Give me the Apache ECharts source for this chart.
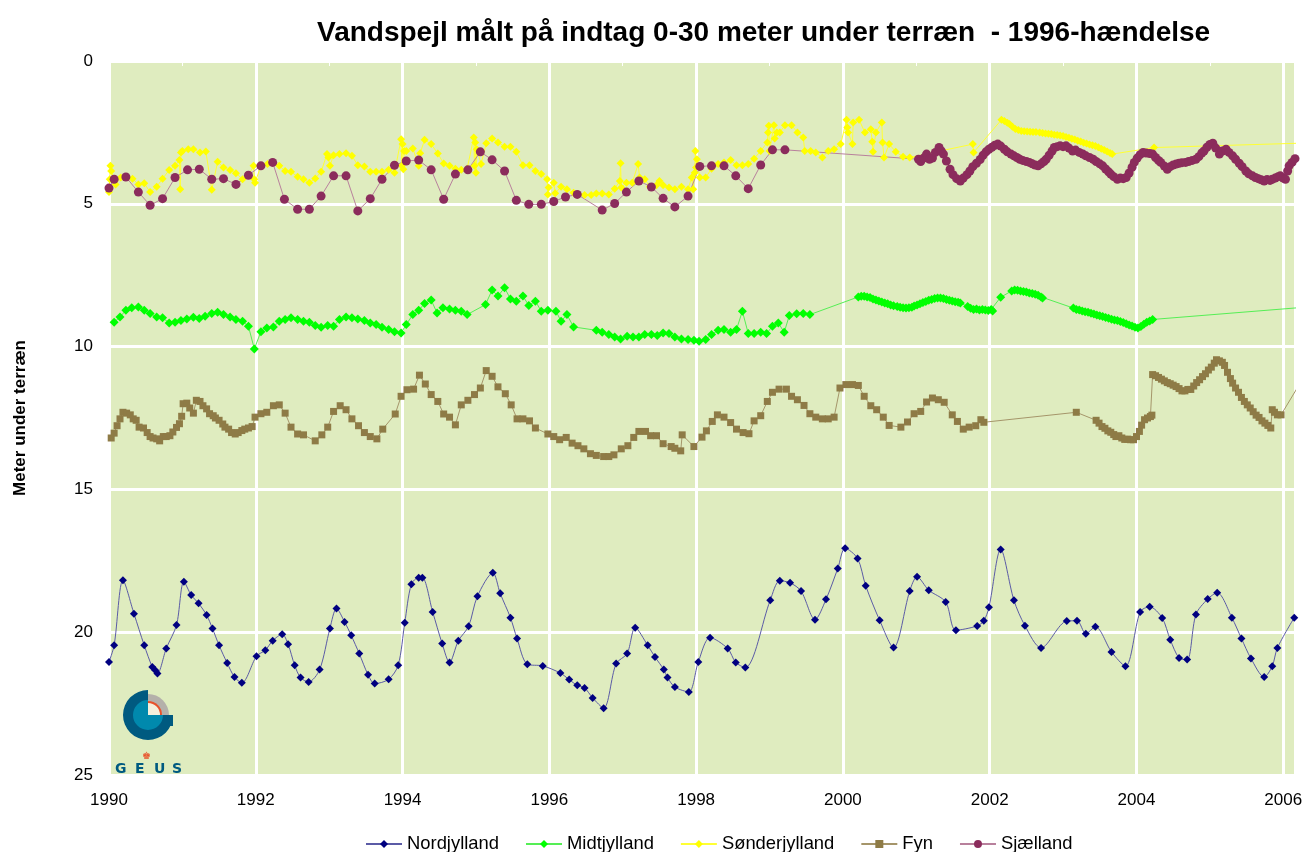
<!DOCTYPE html>
<html>
<head>
<meta charset="utf-8">
<title>Vandspejl 1990-2006</title>
<script src="https://cdn.jsdelivr.net/npm/echarts@6/dist/echarts.min.js"></script>
<style>
  html, body { margin: 0; padding: 0; background: #ffffff; }
  #chart { width: 1308px; height: 852px; }
</style>
</head>
<body>
<div id="chart"></div>
<script>
// Groundwater level, metres below surface, screens 0-30 m, by region.
// Each entry is [decimal year, metres below terrain].

const yearTicks = [1990, 1992, 1994, 1996, 1998, 2000, 2002, 2004, 2006];
const depthTicks = [0, 5, 10, 15, 20, 25];
const regionNames = ['Nordjylland', 'Midtjylland', 'Sønderjylland', 'Fyn', 'Sjælland'];

const nordjylland = [
  [1990.00,21.04],[1990.07,20.46],[1990.19,18.18],[1990.34,19.35],[1990.48,20.46],[1990.59,21.22],[1990.63,21.33],[1990.66,21.45],
  [1990.78,20.57],[1990.92,19.75],[1991.02,18.23],[1991.12,18.70],[1991.22,18.99],[1991.33,19.40],[1991.41,19.87],[1991.50,20.46],
  [1991.61,21.08],[1991.71,21.57],[1991.81,21.77],[1992.01,20.84],[1992.13,20.63],[1992.23,20.30],[1992.36,20.07],[1992.44,20.42],
  [1992.53,21.16],[1992.61,21.59],[1992.72,21.74],[1992.87,21.31],[1993.01,19.87],[1993.10,19.17],[1993.21,19.64],[1993.30,20.11],
  [1993.41,20.75],[1993.53,21.49],[1993.62,21.80],[1993.81,21.65],[1993.94,21.16],[1994.03,19.67],[1994.12,18.32],[1994.22,18.09],
  [1994.27,18.09],[1994.41,19.29],[1994.54,20.40],[1994.64,21.06],[1994.76,20.30],[1994.90,19.79],[1995.02,18.74],[1995.23,17.92],
  [1995.33,18.64],[1995.47,19.49],[1995.56,20.22],[1995.70,21.12],[1995.91,21.18],[1996.15,21.43],[1996.27,21.66],[1996.38,21.86],
  [1996.48,21.95],[1996.59,22.30],[1996.74,22.66],[1996.91,21.10],[1997.06,20.75],[1997.17,19.84],[1997.34,20.46],[1997.44,20.87],
  [1997.56,21.31],[1997.61,21.59],[1997.71,21.92],[1997.90,22.09],[1998.03,21.04],[1998.19,20.19],[1998.43,20.57],[1998.54,21.06],
  [1998.67,21.24],[1999.01,18.88],[1999.14,18.20],[1999.28,18.27],[1999.43,18.56],[1999.62,19.56],[1999.77,18.85],[1999.93,17.77],
  [2000.03,17.06],[2000.20,17.42],[2000.31,18.37],[2000.50,19.58],[2000.69,20.54],[2000.91,18.56],[2001.01,18.06],[2001.17,18.53],
  [2001.40,18.94],[2001.54,19.93],[2001.83,19.78],[2001.92,19.60],[2001.99,19.13],[2002.15,17.10],[2002.33,18.88],[2002.48,19.77],
  [2002.70,20.55],[2003.05,19.61],[2003.19,19.60],[2003.31,20.05],[2003.44,19.81],[2003.66,20.69],[2003.85,21.19],[2004.05,19.29],
  [2004.18,19.11],[2004.35,19.50],[2004.46,20.26],[2004.58,20.90],[2004.69,20.96],[2004.81,19.38],[2004.97,18.84],[2005.10,18.62],
  [2005.30,19.49],[2005.43,20.22],[2005.56,20.92],[2005.74,21.57],[2005.85,21.19],[2005.92,20.55],[2006.15,19.49]
];

const midtjylland = [
  [1990.07,9.15],[1990.15,8.96],[1990.23,8.73],[1990.31,8.64],[1990.40,8.61],[1990.48,8.73],[1990.56,8.84],[1990.65,8.96],
  [1990.73,8.99],[1990.82,9.17],[1990.90,9.15],[1990.98,9.09],[1991.06,9.03],[1991.15,8.97],[1991.23,9.02],[1991.31,8.94],
  [1991.40,8.84],[1991.48,8.80],[1991.56,8.88],[1991.65,8.96],[1991.73,9.05],[1991.82,9.11],[1991.90,9.29],[1991.98,10.08],
  [1992.07,9.48],[1992.15,9.35],[1992.24,9.31],[1992.32,9.11],[1992.40,9.05],[1992.48,8.99],[1992.57,9.05],[1992.65,9.11],
  [1992.73,9.15],[1992.81,9.26],[1992.89,9.32],[1992.98,9.26],[1993.06,9.29],[1993.14,9.05],[1993.23,8.96],[1993.31,8.99],
  [1993.39,9.03],[1993.48,9.09],[1993.56,9.17],[1993.64,9.23],[1993.72,9.32],[1993.81,9.40],[1993.89,9.48],[1993.98,9.52],
  [1994.05,9.23],[1994.14,8.88],[1994.22,8.73],[1994.30,8.49],[1994.39,8.37],[1994.47,8.82],[1994.55,8.64],[1994.64,8.68],
  [1994.72,8.73],[1994.80,8.76],[1994.88,8.88],[1995.13,8.53],[1995.22,8.02],[1995.30,8.23],[1995.39,7.94],[1995.47,8.33],
  [1995.55,8.41],[1995.64,8.23],[1995.72,8.56],[1995.81,8.41],[1995.89,8.76],[1995.98,8.73],[1996.09,8.76],[1996.16,9.11],
  [1996.24,8.88],[1996.33,9.31],[1996.64,9.43],[1996.72,9.50],[1996.81,9.58],[1996.89,9.66],[1996.97,9.73],[1997.06,9.64],
  [1997.14,9.66],[1997.22,9.66],[1997.30,9.58],[1997.39,9.58],[1997.47,9.61],[1997.55,9.52],[1997.63,9.54],[1997.71,9.66],
  [1997.80,9.73],[1997.89,9.75],[1997.97,9.78],[1998.04,9.81],[1998.13,9.75],[1998.21,9.58],[1998.30,9.43],[1998.38,9.40],
  [1998.47,9.50],[1998.55,9.40],[1998.63,8.76],[1998.71,9.54],[1998.79,9.54],[1998.88,9.50],[1998.96,9.54],[1999.04,9.29],
  [1999.12,9.17],[1999.20,9.50],[1999.27,8.91],[1999.37,8.85],[1999.46,8.84],[1999.55,8.88],
  // logger period 2000-2001
  [2000.21,8.26],[2000.25,8.24],[2000.29,8.24],[2000.33,8.26],[2000.37,8.28],[2000.41,8.33],[2000.45,8.37],[2000.49,8.40],
  [2000.53,8.44],[2000.57,8.47],[2000.61,8.50],[2000.65,8.54],[2000.69,8.57],[2000.74,8.60],[2000.78,8.62],[2000.82,8.64],
  [2000.86,8.65],[2000.90,8.64],[2000.94,8.62],[2000.97,8.58],[2001.01,8.54],[2001.05,8.50],[2001.09,8.46],[2001.13,8.42],
  [2001.17,8.38],[2001.21,8.35],[2001.25,8.32],[2001.29,8.30],[2001.33,8.30],[2001.37,8.32],[2001.41,8.35],[2001.45,8.38],
  [2001.49,8.40],[2001.53,8.43],[2001.57,8.45],[2001.60,8.47],
  [2001.70,8.60],[2001.74,8.66],[2001.78,8.70],[2001.82,8.68],[2001.86,8.72],[2001.90,8.70],[2001.94,8.72],[2001.98,8.74],
  [2002.02,8.70],[2002.04,8.75],
  [2002.15,8.27],
  [2002.30,8.05],[2002.34,8.02],[2002.38,8.03],[2002.42,8.05],[2002.46,8.07],[2002.50,8.09],[2002.54,8.12],[2002.58,8.14],
  [2002.62,8.17],[2002.66,8.20],[2002.70,8.26],[2002.72,8.30],
  [2003.14,8.65],[2003.18,8.70],[2003.22,8.72],[2003.26,8.75],[2003.30,8.78],[2003.34,8.80],[2003.38,8.83],[2003.42,8.86],
  [2003.46,8.89],[2003.50,8.92],[2003.54,8.95],[2003.58,8.98],[2003.62,9.01],[2003.66,9.04],[2003.70,9.07],[2003.74,9.09],
  [2003.78,9.12],[2003.82,9.16],[2003.86,9.20],[2003.90,9.24],[2003.94,9.28],[2003.98,9.32],[2004.02,9.35],[2004.06,9.30],
  [2004.10,9.22],[2004.14,9.15],[2004.18,9.10],[2004.22,9.05],
  [2006.20,8.64]
];

const soenderjylland = [
  [1990.00,4.59],[1990.01,4.14],[1990.02,3.67],[1990.03,3.85],[1990.09,4.32],[1990.16,4.08],[1990.24,4.05],[1990.32,4.12],
  [1990.40,4.32],[1990.48,4.28],[1990.56,4.59],[1990.65,4.40],[1990.73,4.12],[1990.82,3.82],[1990.90,3.67],[1990.96,3.47],
  [1990.97,4.49],[1990.98,3.20],[1991.00,3.15],[1991.08,3.09],[1991.15,3.09],[1991.24,3.20],[1991.32,3.17],[1991.40,4.51],
  [1991.48,3.53],[1991.56,3.73],[1991.65,3.82],[1991.73,3.93],[1991.82,4.14],[1991.90,4.00],[1991.97,3.67],[1991.98,4.14],
  [1991.99,4.26],[1992.07,3.67],[1992.16,3.61],[1992.24,3.55],[1992.32,3.67],[1992.40,3.85],[1992.48,3.88],[1992.57,4.05],
  [1992.65,4.14],[1992.73,4.26],[1992.81,4.11],[1992.89,3.88],[1992.97,3.26],[1992.99,3.38],[1993.01,3.67],[1993.06,3.30],
  [1993.14,3.26],[1993.23,3.23],[1993.31,3.32],[1993.39,3.65],[1993.48,3.69],[1993.56,3.88],[1993.64,3.88],[1993.72,3.88],
  [1993.81,3.81],[1993.89,3.91],[1993.98,2.74],[1993.99,3.67],[1994.00,2.91],[1994.01,3.79],[1994.02,3.15],[1994.05,3.15],
  [1994.14,3.06],[1994.22,3.67],[1994.24,3.23],[1994.30,2.76],[1994.39,2.91],[1994.48,3.24],[1994.56,3.59],[1994.64,3.67],
  [1994.72,3.77],[1994.80,3.81],[1994.88,3.77],[1994.97,2.68],[1994.98,3.67],[1994.99,2.85],[1995.00,3.91],[1995.01,3.09],
  [1995.07,3.61],[1995.14,2.88],[1995.22,2.71],[1995.30,2.85],[1995.39,3.00],[1995.47,3.00],[1995.55,3.18],[1995.64,3.65],
  [1995.73,3.65],[1995.81,3.85],[1995.89,3.96],[1995.97,4.14],[1995.98,4.67],[1995.99,4.43],[1996.06,4.26],[1996.08,4.63],
  [1996.16,4.40],[1996.24,4.49],[1996.33,4.61],[1996.40,4.67],[1996.48,4.69],[1996.57,4.69],[1996.64,4.64],[1996.72,4.64],
  [1996.81,4.67],[1996.89,4.47],[1996.96,4.20],[1996.97,3.58],[1996.98,4.43],[1997.05,4.26],[1997.13,4.26],[1997.21,3.61],
  [1997.23,4.08],[1997.30,4.14],[1997.37,4.40],[1997.46,4.35],[1997.50,4.20],[1997.55,4.35],[1997.63,4.43],[1997.71,4.49],
  [1997.80,4.40],[1997.89,4.49],[1997.94,4.08],[1997.96,4.49],[1997.98,3.91],[1997.99,3.15],[1998.00,3.73],[1998.01,3.44],
  [1998.05,4.08],[1998.13,4.08],[1998.21,3.77],[1998.30,3.61],[1998.38,3.55],[1998.47,3.47],[1998.55,3.65],[1998.63,3.65],
  [1998.71,3.61],[1998.79,3.42],[1998.88,3.15],[1998.97,2.85],[1998.98,2.50],[1998.99,2.27],[1999.00,3.15],[1999.06,2.25],
  [1999.07,2.71],[1999.10,2.50],[1999.14,2.50],[1999.21,2.25],[1999.30,2.25],[1999.38,2.50],[1999.46,2.68],[1999.48,3.15],
  [1999.56,3.15],[1999.63,3.20],[1999.72,3.38],[1999.80,3.15],[1999.88,3.09],[1999.97,2.91],[2000.05,2.06],[2000.06,2.33],
  [2000.07,2.50],[2000.13,2.91],[2000.14,2.15],[2000.22,2.06],[2000.30,2.50],[2000.38,2.39],[2000.40,2.83],[2000.41,3.18],
  [2000.45,2.50],[2000.53,2.15],[2000.54,2.85],[2000.56,3.38],[2000.63,2.91],[2000.72,3.18],[2000.82,3.35],[2000.91,3.38],
  [2001.77,2.91],[2001.78,3.20],
  // logger period 2002-2003
  [2002.16,2.06],[2002.20,2.10],[2002.24,2.16],[2002.27,2.21],[2002.31,2.30],[2002.35,2.38],[2002.39,2.42],[2002.43,2.45],
  [2002.47,2.46],[2002.51,2.47],[2002.55,2.48],[2002.59,2.49],[2002.63,2.49],[2002.68,2.50],[2002.72,2.52],[2002.76,2.54],
  [2002.80,2.55],[2002.84,2.56],[2002.88,2.58],[2002.92,2.59],[2002.96,2.61],[2003.00,2.63],[2003.04,2.66],[2003.08,2.69],
  [2003.12,2.72],[2003.16,2.75],[2003.20,2.79],[2003.24,2.82],[2003.28,2.86],[2003.32,2.89],[2003.36,2.92],[2003.40,2.95],
  [2003.44,2.98],[2003.48,3.02],[2003.52,3.07],[2003.56,3.12],[2003.60,3.17],[2003.64,3.22],[2003.67,3.26],
  [2004.24,3.03],[2006.20,2.88]
];

const fyn = [
  [1990.03,13.20],[1990.07,13.03],[1990.11,12.77],[1990.15,12.53],[1990.19,12.30],[1990.24,12.33],[1990.29,12.39],[1990.33,12.53],
  [1990.37,12.58],[1990.41,12.82],[1990.47,12.85],[1990.52,13.01],[1990.56,13.15],[1990.60,13.20],[1990.65,13.23],[1990.69,13.30],
  [1990.74,13.15],[1990.78,13.15],[1990.83,13.12],[1990.87,12.99],[1990.92,12.83],[1990.96,12.70],[1990.99,12.44],[1991.01,12.00],
  [1991.06,11.98],[1991.10,12.15],[1991.15,12.33],[1991.19,11.88],[1991.24,11.92],[1991.28,12.07],[1991.33,12.18],[1991.37,12.35],
  [1991.42,12.42],[1991.45,12.50],[1991.50,12.58],[1991.55,12.71],[1991.58,12.82],[1991.63,12.89],[1991.67,13.01],[1991.72,13.06],
  [1991.76,13.01],[1991.81,12.94],[1991.85,12.89],[1991.90,12.85],[1991.95,12.80],[1991.99,12.47],[1992.07,12.35],[1992.15,12.30],
  [1992.24,12.07],[1992.32,12.04],[1992.40,12.33],[1992.48,12.82],[1992.57,13.06],[1992.65,13.09],[1992.81,13.30],[1992.90,13.09],
  [1992.98,12.82],[1993.06,12.27],[1993.15,12.07],[1993.23,12.21],[1993.31,12.53],[1993.40,12.77],[1993.48,13.01],[1993.56,13.15],
  [1993.65,13.23],[1993.73,12.89],[1993.90,12.36],[1993.98,11.74],[1994.06,11.51],[1994.15,11.49],[1994.23,11.00],[1994.31,11.31],
  [1994.39,11.68],[1994.48,11.92],[1994.56,12.36],[1994.64,12.47],[1994.72,12.74],[1994.80,12.04],[1994.89,11.88],[1994.98,11.68],
  [1995.06,11.45],[1995.14,10.84],[1995.22,11.04],[1995.30,11.41],[1995.40,11.65],[1995.48,12.04],[1995.56,12.53],[1995.64,12.53],
  [1995.73,12.60],[1995.81,12.85],[1995.98,13.06],[1996.06,13.15],[1996.14,13.26],[1996.23,13.18],[1996.31,13.38],[1996.39,13.47],
  [1996.47,13.58],[1996.56,13.75],[1996.64,13.81],[1996.74,13.85],[1996.81,13.85],[1996.88,13.79],[1996.98,13.58],[1997.07,13.47],
  [1997.15,13.18],[1997.22,12.97],[1997.31,12.97],[1997.38,13.12],[1997.46,13.12],[1997.55,13.40],[1997.66,13.50],[1997.71,13.56],
  [1997.79,13.65],[1997.81,13.09],[1997.97,13.50],[1998.08,13.17],[1998.14,12.95],[1998.22,12.62],[1998.29,12.39],[1998.38,12.47],
  [1998.47,12.66],[1998.55,12.89],[1998.64,13.01],[1998.72,13.05],[1998.79,12.60],[1998.88,12.42],[1998.97,11.92],[1999.04,11.60],
  [1999.13,11.49],[1999.23,11.49],[1999.30,11.74],[1999.38,11.86],[1999.47,12.06],[1999.55,12.35],[1999.63,12.47],[1999.72,12.53],
  [1999.80,12.53],[1999.88,12.47],[1999.96,11.45],[2000.04,11.33],[2000.13,11.33],[2000.21,11.36],[2000.29,11.74],[2000.38,12.07],
  [2000.46,12.21],[2000.55,12.47],[2000.63,12.76],[2000.79,12.82],[2000.88,12.64],[2000.97,12.35],[2001.06,12.27],[2001.14,11.94],
  [2001.22,11.80],[2001.30,11.86],[2001.38,11.95],[2001.49,12.39],[2001.56,12.62],[2001.64,12.89],[2001.72,12.82],[2001.81,12.77],
  [2001.88,12.56],[2001.92,12.65],[2003.18,12.30],
  // logger period 2003-2005
  [2003.45,12.58],[2003.49,12.68],[2003.53,12.80],[2003.57,12.86],[2003.61,12.95],[2003.65,13.00],[2003.69,13.08],[2003.72,13.15],
  [2003.76,13.12],[2003.80,13.20],[2003.84,13.25],[2003.88,13.24],[2003.92,13.26],[2003.96,13.26],[2004.00,13.15],[2004.04,12.97],
  [2004.07,12.75],[2004.11,12.56],[2004.15,12.50],[2004.19,12.45],[2004.21,12.40],[2004.22,10.98],[2004.26,11.02],[2004.30,11.08],
  [2004.34,11.14],[2004.38,11.20],[2004.42,11.26],[2004.46,11.30],[2004.50,11.35],[2004.54,11.40],[2004.58,11.47],[2004.62,11.55],
  [2004.66,11.55],[2004.70,11.50],[2004.74,11.50],[2004.78,11.38],[2004.82,11.26],[2004.86,11.16],[2004.90,11.05],[2004.94,10.95],
  [2004.98,10.82],[2005.02,10.72],[2005.06,10.58],[2005.09,10.46],[2005.13,10.50],[2005.17,10.55],[2005.20,10.66],[2005.24,10.90],
  [2005.28,11.12],[2005.31,11.28],[2005.35,11.45],[2005.39,11.60],[2005.43,11.78],[2005.47,11.92],[2005.51,12.04],[2005.55,12.15],
  [2005.59,12.28],[2005.63,12.40],[2005.67,12.48],[2005.71,12.60],[2005.75,12.68],[2005.79,12.76],[2005.83,12.85],[2005.85,12.21],
  [2005.88,12.30],[2005.92,12.39],[2005.97,12.39],[2006.19,11.45]
];

const sjaelland = [
  [1990.00,4.45],[1990.07,4.14],[1990.23,4.06],[1990.40,4.59],[1990.56,5.05],[1990.73,4.82],[1990.90,4.08],[1991.07,3.81],
  [1991.23,3.79],[1991.40,4.14],[1991.56,4.12],[1991.73,4.32],[1991.90,4.00],[1992.07,3.67],[1992.23,3.55],[1992.39,4.84],
  [1992.57,5.19],[1992.73,5.19],[1992.89,4.73],[1993.06,4.02],[1993.23,4.02],[1993.39,5.25],[1993.56,4.82],[1993.72,4.14],
  [1993.89,3.65],[1994.05,3.50],[1994.22,3.47],[1994.39,3.81],[1994.56,4.84],[1994.72,3.96],[1994.89,3.81],[1995.06,3.18],
  [1995.22,3.46],[1995.39,3.85],[1995.55,4.88],[1995.72,5.02],[1995.89,5.02],[1996.06,4.92],[1996.22,4.76],[1996.38,4.67],
  [1996.72,5.22],[1996.89,4.99],[1997.05,4.59],[1997.22,4.20],[1997.39,4.41],[1997.55,4.81],[1997.71,5.11],[1997.89,4.73],
  [1998.05,3.69],[1998.21,3.67],[1998.38,3.67],[1998.54,4.02],[1998.71,4.47],[1998.88,3.64],[1999.04,3.11],[1999.21,3.11],
  // logger period 2001-2006
  [2001.03,3.44],[2001.06,3.52],[2001.10,3.40],[2001.14,3.26],[2001.18,3.44],[2001.22,3.40],[2001.26,3.20],[2001.31,3.03],
  [2001.34,3.15],[2001.37,3.26],[2001.41,3.50],[2001.46,3.79],[2001.50,3.98],[2001.55,4.12],[2001.60,4.20],[2001.64,4.10],
  [2001.69,3.98],[2001.73,3.85],[2001.77,3.70],[2001.82,3.58],[2001.87,3.45],[2001.91,3.30],[2001.95,3.18],[2001.99,3.09],
  [2002.03,3.02],[2002.07,2.95],[2002.11,2.91],[2002.15,2.98],[2002.20,3.09],[2002.24,3.18],[2002.29,3.26],[2002.33,3.32],
  [2002.37,3.38],[2002.41,3.44],[2002.45,3.48],[2002.50,3.52],[2002.54,3.55],[2002.58,3.60],[2002.62,3.64],[2002.66,3.67],
  [2002.70,3.60],[2002.74,3.52],[2002.77,3.44],[2002.81,3.30],[2002.85,3.15],[2002.88,3.03],[2002.92,3.00],[2002.96,2.97],
  [2003.00,3.00],[2003.04,2.97],[2003.08,3.05],[2003.13,3.15],[2003.17,3.12],[2003.22,3.20],[2003.27,3.26],[2003.31,3.32],
  [2003.36,3.38],[2003.41,3.44],[2003.45,3.52],[2003.50,3.60],[2003.54,3.67],[2003.58,3.78],[2003.62,3.88],[2003.65,3.96],
  [2003.69,4.05],[2003.74,4.14],[2003.78,4.10],[2003.82,4.12],[2003.86,4.08],[2003.90,3.92],[2003.94,3.72],[2003.97,3.55],
  [2004.01,3.40],[2004.05,3.28],[2004.09,3.20],[2004.13,3.22],[2004.18,3.24],[2004.22,3.26],[2004.26,3.38],[2004.30,3.48],
  [2004.33,3.55],[2004.38,3.68],[2004.42,3.79],[2004.46,3.70],[2004.50,3.64],[2004.54,3.61],[2004.58,3.58],[2004.62,3.56],
  [2004.67,3.55],[2004.71,3.52],[2004.76,3.48],[2004.81,3.44],[2004.85,3.35],[2004.89,3.22],[2004.92,3.15],[2004.96,3.02],
  [2005.00,2.92],[2005.04,2.88],[2005.08,3.05],[2005.13,3.26],[2005.17,3.15],[2005.22,3.09],[2005.26,3.20],[2005.31,3.32],
  [2005.35,3.44],[2005.40,3.58],[2005.44,3.70],[2005.49,3.85],[2005.53,3.95],[2005.58,4.02],[2005.62,4.08],[2005.66,4.12],
  [2005.70,4.16],[2005.74,4.20],[2005.78,4.15],[2005.82,4.18],[2005.85,4.14],[2005.89,4.10],[2005.93,4.05],[2005.96,4.02],
  [2006.00,4.10],[2006.03,4.14],[2006.06,3.85],[2006.08,3.67],[2006.12,3.55],[2006.16,3.42],[2006.19,3.38]
];

const FONT = '"Liberation Sans", Arial, sans-serif';

function lineSeries(name, data, markerColor, lineColor, symbol, size, extra) {
  return Object.assign({
    name: name,
    type: 'line',
    data: data,
    symbol: symbol,
    symbolSize: size,
    showAllSymbol: true,
    itemStyle: { color: markerColor, borderWidth: 0 },
    lineStyle: { color: lineColor, width: 1 },
    emphasis: { disabled: true },
    clip: true
  }, extra || {});
}

// GEUS logo in the lower-left corner of the plot
const logoX = 148, logoY = 715;
const logoInk = '#005a80';
const logo = [
  { type: 'sector', shape: { cx: logoX, cy: logoY, r: 25, r0: 0, startAngle: 0, endAngle: Math.PI * 1.5 },
    style: { fill: logoInk }, z: 100 },
  { type: 'rect', shape: { x: logoX + 12, y: logoY, width: 13, height: 11 }, style: { fill: logoInk }, z: 100 },
  { type: 'sector', shape: { cx: logoX, cy: logoY, r: 21, r0: 0, startAngle: -Math.PI / 2, endAngle: 0 },
    style: { fill: '#b4b0aa' }, z: 101 },
  { type: 'sector', shape: { cx: logoX, cy: logoY, r: 14, r0: 0, startAngle: -Math.PI / 2, endAngle: 0 },
    style: { fill: '#e8512a' }, z: 102 },
  { type: 'sector', shape: { cx: logoX, cy: logoY, r: 12, r0: 0, startAngle: -Math.PI / 2, endAngle: 0 },
    style: { fill: '#f4f0dc' }, z: 103 },
  { type: 'sector', shape: { cx: logoX, cy: logoY, r: 15, r0: 0, startAngle: 0, endAngle: Math.PI * 1.5 },
    style: { fill: '#0089ad' }, z: 103 },
  { type: 'text', x: logoX - 2, y: logoY + 36,
    style: { text: '♚', fill: '#e8512a', font: '10px ' + FONT, align: 'center' }, z: 103 },
  { type: 'text', x: 115, y: logoY + 47, style: { text: 'G', fill: logoInk, font: 'bold 14px "DejaVu Sans", ' + FONT }, z: 103 },
  { type: 'text', x: 135, y: logoY + 47, style: { text: 'E', fill: logoInk, font: 'bold 14px "DejaVu Sans", ' + FONT }, z: 103 },
  { type: 'text', x: 154, y: logoY + 47, style: { text: 'U', fill: logoInk, font: 'bold 14px "DejaVu Sans", ' + FONT }, z: 103 },
  { type: 'text', x: 172, y: logoY + 47, style: { text: 'S', fill: logoInk, font: 'bold 14px "DejaVu Sans", ' + FONT }, z: 103 }
];

const chart = echarts.init(document.getElementById('chart'), null, { renderer: 'canvas' });

chart.setOption({
  animation: false,
  backgroundColor: '#ffffff',
  textStyle: { fontFamily: FONT, color: '#000' },
  title: {
    text: 'Vandspejl målt på indtag 0-30 meter under terræn  - 1996-hændelse',
    left: 312,
    top: 14,
    textStyle: { fontFamily: FONT, fontSize: 28, fontWeight: 'bold', color: '#000' }
  },
  legend: {
    data: regionNames,
    left: 360,
    top: 830,
    itemWidth: 36,
    itemHeight: 10,
    itemGap: 26,
    textStyle: { fontFamily: FONT, fontSize: 18.4, color: '#000' }
  },
  grid: {
    left: 109,
    right: 13,
    top: 61,
    bottom: 77,
    show: true,
    backgroundColor: '#dfecbf',
    borderWidth: 0
  },
  xAxis: {
    type: 'value',
    min: yearTicks[0],
    max: 2006.16,
    interval: 2,
    axisLine: { show: false },
    axisTick: { show: false },
    minorTick: { show: true, splitNumber: 2, length: 5, lineStyle: { color: '#ffffff', width: 1 } },
    splitLine: { show: true, lineStyle: { color: '#ffffff', width: 3 } },
    axisLabel: {
      fontFamily: FONT, fontSize: 17, color: '#000', margin: 17, showMaxLabel: false,
      formatter: function (v) { return yearTicks.indexOf(v) >= 0 ? String(v) : ''; }
    }
  },
  yAxis: {
    type: 'value',
    inverse: true,
    min: depthTicks[0],
    max: depthTicks[depthTicks.length - 1],
    interval: 5,
    name: 'Meter under terræn',
    nameLocation: 'middle',
    nameGap: 80,
    nameTextStyle: { fontFamily: FONT, fontSize: 17, fontWeight: 'bold', color: '#000' },
    axisLine: { show: false },
    axisTick: { show: false },
    splitLine: { show: true, lineStyle: { color: '#ffffff', width: 3 } },
    axisLabel: { fontFamily: FONT, fontSize: 17, color: '#000', margin: 16 }
  },
  graphic: logo,
  series: [
    lineSeries(regionNames[0], nordjylland, '#000080', '#5b5ba6', 'diamond', 8, { smooth: 0.3 }),
    lineSeries(regionNames[1], midtjylland, '#00ff00', '#55ee55', 'diamond', 9),
    lineSeries(regionNames[2], soenderjylland, '#ffff00', '#ffff33', 'diamond', 8),
    lineSeries(regionNames[3], fyn, '#8e7b46', '#a5956a', 'rect', 7),
    lineSeries(regionNames[4], sjaelland, '#8b2c5c', '#b8809c', 'circle', 9)
  ]
});
</script>
</body>
</html>
